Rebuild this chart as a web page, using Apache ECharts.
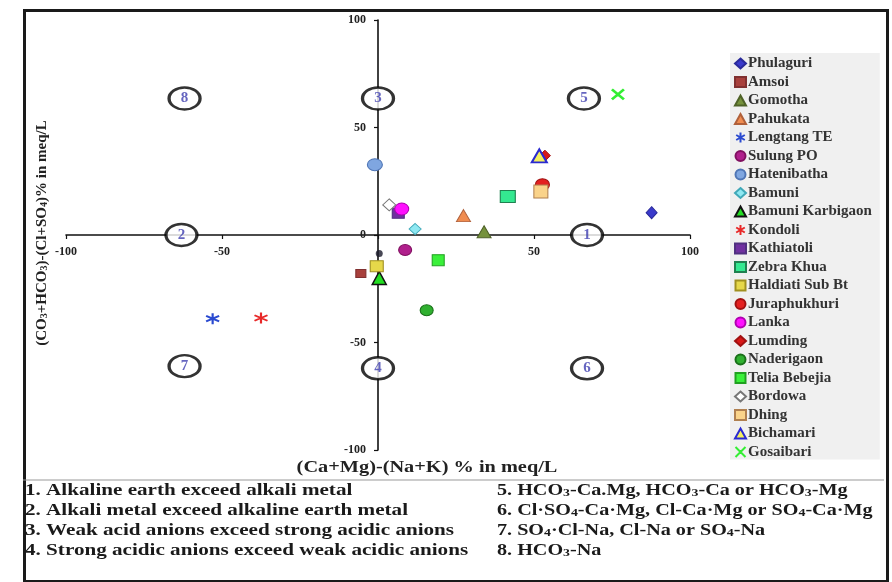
<!DOCTYPE html>
<html>
<head>
<meta charset="utf-8">
<script src="https://cdn.jsdelivr.net/npm/echarts@6/dist/echarts.min.js"></script>
<style>html,body{margin:0;padding:0;background:#fff}#c{width:892px;height:582px}</style>
</head>
<body>
<div id="c"></div>
<script>
// ---- data ----
var siteNames = ['Phulaguri','Amsoi','Gomotha','Pahukata','Lengtang TE','Sulung PO','Hatenibatha','Bamuni','Bamuni Karbigaon','Kondoli','Kathiatoli','Zebra Khua','Haldiati Sub Bt','Juraphukhuri','Lanka','Lumding','Naderigaon','Telia Bebejia','Bordowa','Dhing','Bichamari','Gosaibari'];
var xValues = [87.7, -5.5, 34.0, 27.4, -53.0, 8.7, -1.0, 11.9, 0.4, -37.5, 6.5, 41.6, -0.4, 52.7, 7.6, 53.5, 15.6, 19.3, 3.6, 52.2, 51.7, 76.9];
var yValues = [10.4, -17.9, 1.5, 9.0, -38.9, -7.0, 32.7, 2.8, -20.0, -38.6, 10.1, 17.9, -14.5, 23.4, 12.1, 36.9, -35.0, -11.7, 14.0, 20.2, 36.8, 65.4];
var extraPointX = [0.4];
var extraPointY = [-8.6];
var zoneNumbers = ['1','2','3','4','5','6','7','8'];
var zoneX = [67, -63, 0, 0, 66, 67, -62, -62];
var zoneY = [0, 0, 63.5, -62, 63.5, -62, -61, 63.5];
var axisTicks = [-100, -50, 0, 50, 100];
var xTitle = '(Ca+Mg)-(Na+K) % in meq/L';
var notesLeft = ['1. Alkaline earth exceed alkali metal','2. Alkali metal exceed alkaline earth metal','3. Weak acid anions exceed strong acidic anions','4. Strong acidic anions exceed weak acidic anions'];
var notesRight = ['5. HCO{s|3}-Ca.Mg, HCO{s|3}-Ca or HCO{s|3}-Mg','6. Cl·SO{s|4}-Ca·Mg, Cl-Ca·Mg or SO{s|4}-Ca·Mg','7. SO{s|4}·Cl-Na, Cl-Na or SO{s|4}-Na','8. HCO{s|3}-Na'];

// ---- styles ----
var SERIF = '"Liberation Serif","Times New Roman",serif';
var asterisk = 'path://M5,0L5,10M0.7,2.5L9.3,7.5M0.7,7.5L9.3,2.5';
var xmark = 'path://M0,0L10,10M10,0L0,10M5,3L5,7';
var xsquare = 'path://M0,0L10,0L10,10L0,10Z';
var plusSquare = 'path://M0,0L10,0L10,10L0,10Z';
var styles = [
  {symbol:'diamond', size:[11,12], color:'#3a3acb', border:'#2a2a9a', bw:1},
  {symbol:'rect', size:[10,8], color:'#a8403c', border:'#803030', bw:1},
  {symbol:'triangle', size:[14,12], color:'#76923c', border:'#4f6228', bw:1},
  {symbol:'triangle', size:[14,12], color:'#f08c50', border:'#b0603a', bw:1},
  {symbol:asterisk, size:[13,11], color:'none', border:'#2a4ad0', bw:2},
  {symbol:'circle', size:[13,11], color:'#b01f8c', border:'#801060', bw:1},
  {symbol:'circle', size:[15,12], color:'#7fa6e0', border:'#4f75b5', bw:1},
  {symbol:'diamond', size:[12,11], color:'#8ee8f2', border:'#40a8b8', bw:1},
  {symbol:'triangle', size:[14,13], color:'#22dd22', border:'#111', bw:1.5},
  {symbol:asterisk, size:[13,11], color:'none', border:'#e82828', bw:2},
  {symbol:'rect', size:[12,10], color:'#7030a0', border:'#503080', bw:1},
  {symbol:'rect', size:[15,12], color:'#34e890', border:'#208050', bw:1},
  {symbol:xsquare, size:[13,11], color:'#e6d84a', border:'#a09020', bw:1},
  {symbol:'circle', size:[14,12], color:'#e42020', border:'#a01010', bw:1},
  {symbol:'circle', size:[14,12], color:'#ff10ff', border:'#b000b0', bw:1},
  {symbol:'diamond', size:[11,11], color:'#d81818', border:'#a01010', bw:1},
  {symbol:'circle', size:[13,11], color:'#30b030', border:'#1a701a', bw:1},
  {symbol:plusSquare, size:[12,11], color:'#3af03a', border:'#20a020', bw:1},
  {symbol:'diamond', size:[13,12], color:'#ffffff', border:'#777', bw:1},
  {symbol:'rect', size:[14,13], color:'#fad38a', border:'#b08050', bw:1},
  {symbol:'triangle', size:[15,13], color:'#f4f060', border:'#2a2ad0', bw:2},
  {symbol:xmark, size:[12,10], color:'none', border:'#33ee33', bw:2.5}
];

var chart = echarts.init(document.getElementById('c'), null, {renderer:'canvas'});

var series = siteNames.map(function(n, i){
  var s = styles[i];
  return {
    name: n, type: 'scatter', symbol: s.symbol, symbolSize: s.size, z: 5,
    itemStyle: {color: s.color, borderColor: s.border, borderWidth: s.bw, opacity: 1},
    data: [[xValues[i], yValues[i]]]
  };
});
series.push({
  name: '_dot', type: 'scatter', symbol: 'circle', symbolSize: 7, z: 4,
  itemStyle: {color: '#1a1a2a'},
  data: extraPointX.map(function(x, i){ return [x, extraPointY[i]]; })
});
series.push({
  name: '_zones', type: 'scatter', symbol: 'circle', symbolSize: [31, 22], z: 3,
  itemStyle: {color: '#fff', borderColor: '#000', borderWidth: 2.8},
  label: {show: true, position: 'inside', color: '#3f3fb0', fontFamily: SERIF, fontSize: 15, fontWeight: 'bold',
    formatter: function(p){ return p.value[2]; }},
  data: zoneX.map(function(x, i){ return [x, zoneY[i], zoneNumbers[i]]; })
});

var axisCommon = {
  type: 'value', min: axisTicks[0], max: axisTicks[axisTicks.length-1], interval: 50,
  splitLine: {show: false},
  axisLine: {show: true, onZero: false, lineStyle: {color: '#111', width: 1.6}},
  axisTick: {show: true, length: 4, lineStyle: {color: '#111', width: 1.2}},
  axisLabel: {fontFamily: SERIF, fontSize: 12, fontWeight: 'bold', color: '#222'}
};

chart.setOption({
  animation: false,
  backgroundColor: '#ffffff',
  grid: {left: 66, right: 202, top: 20, bottom: 132, containLabel: false},
  xAxis: Object.assign({}, axisCommon, {
    position: 'bottom', offset: -215,
    axisLabel: Object.assign({}, axisCommon.axisLabel, {margin: 11,
      formatter: function(v){ return v === 0 ? '' : String(v); }})
  }),
  yAxis: Object.assign({}, axisCommon, {
    position: 'left', offset: -312,
    axisLabel: Object.assign({}, axisCommon.axisLabel, {margin: 12})
  }),
  legend: {
    orient: 'vertical', left: 730, top: 53, width: 148,
    data: siteNames,
    itemWidth: 11, itemHeight: 10, itemGap: 3.5,
    backgroundColor: '#f0f0f0', padding: [3, 8, 0, 3],
    textStyle: {fontFamily: SERIF, fontSize: 15, fontWeight: 'bold', color: '#333', padding: [0,0,0,-3]}
  },
  series: series,
  graphic: [
    {type: 'rect', left: 22, top: 8, z: 100, silent: true,
      shape: {x: 0, y: 0, width: 863, height: 571},
      style: {fill: 'none', stroke: '#1a1a1a', lineWidth: 3}},
    {type: 'line', z: 100, silent: true,
      shape: {x1: 23, y1: 480, x2: 884, y2: 480},
      style: {stroke: '#999', lineWidth: 1.2}},
    {type: 'text', x: 427, y: 468, z: 100, silent: true, scaleX: 1.27,
      style: {text: xTitle, fontFamily: SERIF, fontSize: 16, fontWeight: 'bold', fill: '#222',
        textAlign: 'center', textVerticalAlign: 'middle'}},
    {type: 'text', x: 42, y: 233, rotation: Math.PI/2, z: 100, silent: true,
      style: {text: '(CO{s|3}+HCO{s|3})-(Cl+SO{s|4})% in meq/L',
        fontFamily: SERIF, fontSize: 15, fontWeight: 'bold', fill: '#222',
        textAlign: 'center', textVerticalAlign: 'middle',
        rich: {s: {fontFamily: SERIF, fontSize: 10, fontWeight: 'bold', fill: '#222', verticalAlign: 'bottom', lineHeight: 10}}}}
  ].concat(notesLeft.map(function(t, i){
    return {type: 'text', x: 25, y: 491 + i*20, z: 100, silent: true, scaleX: 1.32,
      style: {text: t, fontFamily: SERIF, fontSize: 16, fontWeight: 'bold', fill: '#1a1a1a',
        textAlign: 'left', textVerticalAlign: 'middle'}};
  })).concat(notesRight.map(function(t, i){
    return {type: 'text', x: 497, y: 491 + i*20, z: 100, silent: true, scaleX: 1.26,
      style: {text: t, fontFamily: SERIF, fontSize: 16, fontWeight: 'bold', fill: '#1a1a1a',
        textAlign: 'left', textVerticalAlign: 'middle',
        rich: {s: {fontFamily: SERIF, fontSize: 11, fontWeight: 'bold', fill: '#1a1a1a', verticalAlign: 'bottom', lineHeight: 11}}}};
  }))
});
</script>
</body>
</html>
